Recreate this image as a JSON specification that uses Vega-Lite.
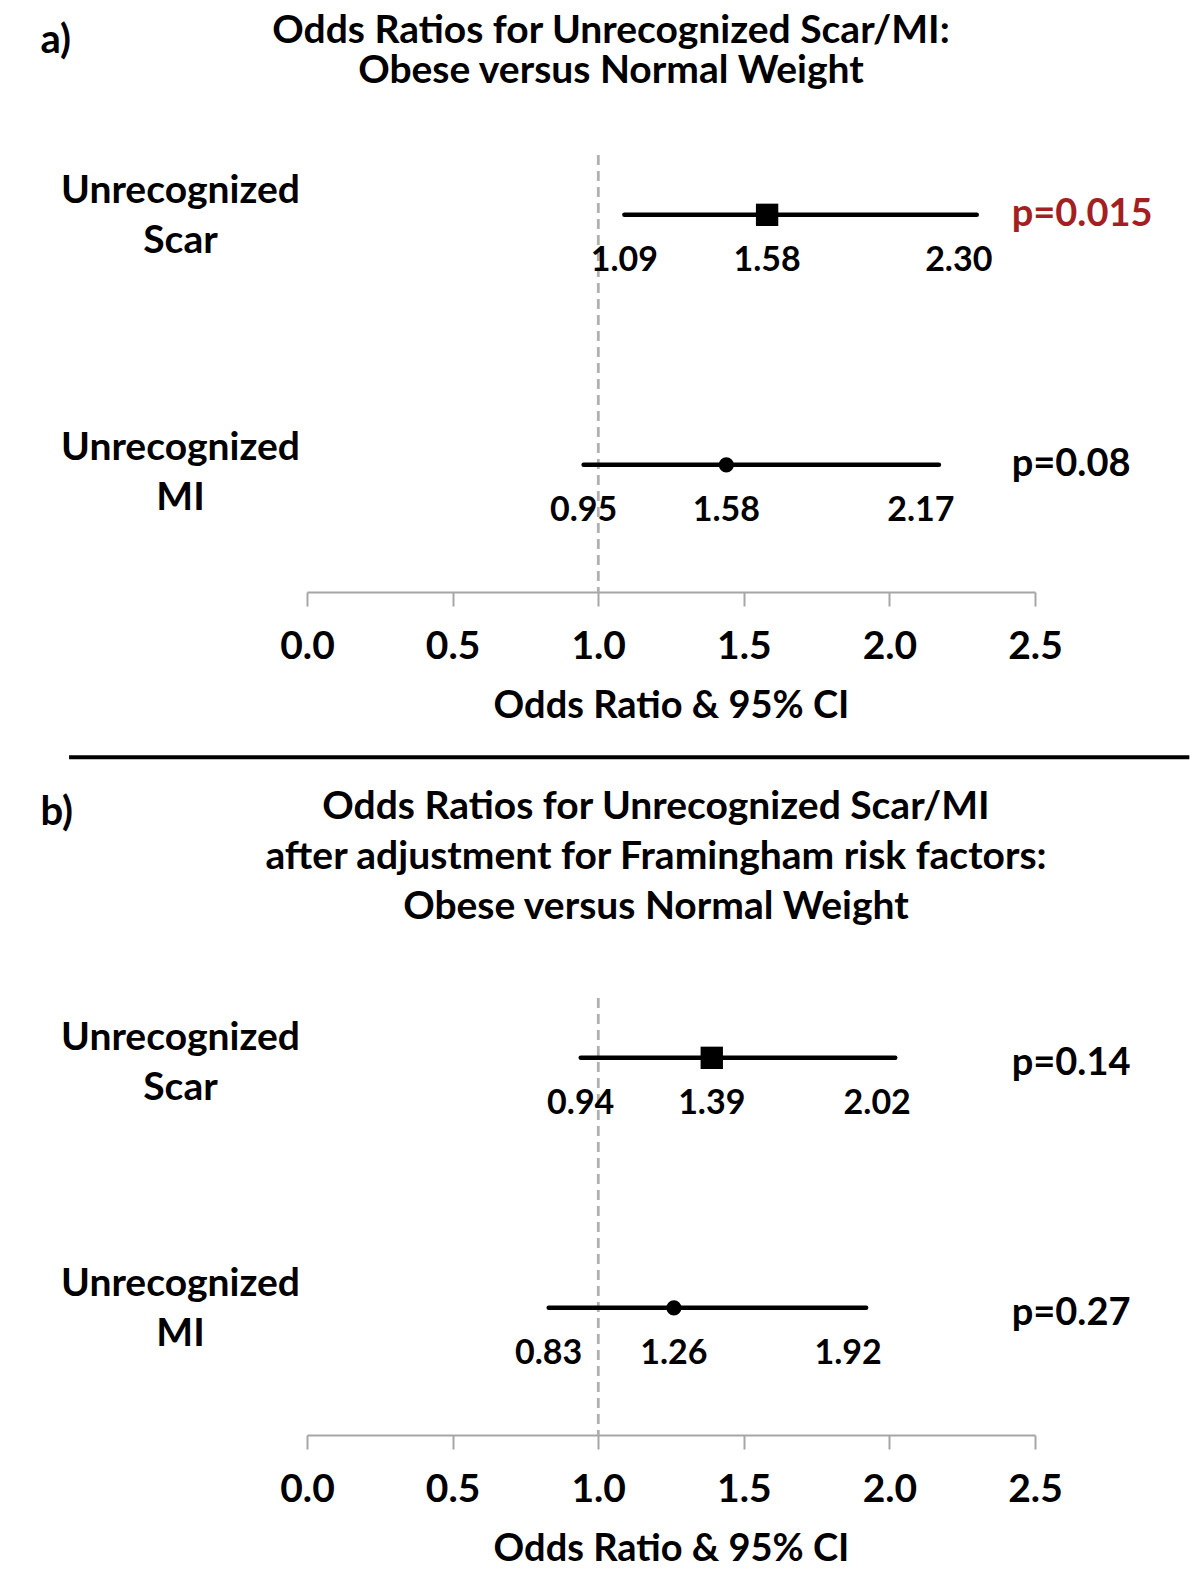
{
  "$schema": "https://vega.github.io/schema/vega-lite/v6.json",
  "padding": {"left": 40, "top": 12, "right": 5, "bottom": 0},
  "background": "white",
  "config": {"font": "Lato", "view": {"stroke": null}, "axis": {"grid": false}},
  "datasets": {
    "forest": [
      {"panel": "a", "outcome": "Unrecognized Scar", "or": 1.58, "lo": 1.09, "hi": 2.30, "orLabel": "1.58", "loLabel": "1.09", "hiLabel": "2.30", "p": "p=0.015", "sig": "yes"},
      {"panel": "a", "outcome": "Unrecognized MI", "or": 1.44, "lo": 0.95, "hi": 2.17, "orLabel": "1.58", "loLabel": "0.95", "hiLabel": "2.17", "p": "p=0.08", "sig": "no"},
      {"panel": "b", "outcome": "Unrecognized Scar", "or": 1.39, "lo": 0.94, "hi": 2.02, "orLabel": "1.39", "loLabel": "0.94", "hiLabel": "2.02", "p": "p=0.14", "sig": "no"},
      {"panel": "b", "outcome": "Unrecognized MI", "or": 1.26, "lo": 0.83, "hi": 1.92, "orLabel": "1.26", "loLabel": "0.83", "hiLabel": "1.92", "p": "p=0.27", "sig": "no"}
    ]
  },
  "spacing": 28,
  "vconcat": [
    {
      "width": 728,
      "height": 437,
      "title": {"text": ["Odds Ratios for Unrecognized Scar/MI:", "Obese versus Normal Weight"], "font": "Lato", "fontSize": 39, "fontWeight": "bold", "lineHeight": 40, "color": "black", "anchor": "middle", "frame": "group", "dx": -60, "dy": 71, "offset": 0},
      "layer": [
        {
          "data": {"name": "forest"},
          "transform": [{"filter": "datum.panel == 'a'"}],
          "layer": [
            {"mark": {"type": "rule", "color": "#b0b0b0", "strokeWidth": 2.5, "strokeDash": [10, 6]}, "encoding": {"x": {"datum": 1, "scale": {"domain": [0, 2.5], "nice": false}}}},
            {
              "mark": {"type": "rule", "color": "black", "strokeWidth": 4.5, "strokeCap": "round"},
              "encoding": {
                "x": {"field": "lo", "type": "quantitative", "scale": {"domain": [0, 2.5], "nice": false},
                  "axis": {"values": [0, 0.5, 1, 1.5, 2, 2.5], "format": ".1f", "title": "Odds Ratio & 95% CI", "titleFontSize": 38, "titleFontWeight": "bold", "titleColor": "black", "titlePadding": 21, "labelFontSize": 39, "labelFontWeight": "bold", "labelColor": "black", "labelPadding": 21, "labelFlush": false, "labelOverlap": false, "domainColor": "#a6a6a6", "domainWidth": 2, "tickColor": "#a6a6a6", "tickWidth": 2, "tickSize": 14}},
                "x2": {"field": "hi"},
                "y": {"field": "outcome", "type": "nominal", "scale": {"type": "point", "domain": ["Unrecognized Scar", "Unrecognized MI"], "padding": 0.374, "align": 0.32},
                  "axis": {"title": "a)", "titleAngle": 0, "titleX": -267, "titleY": -115, "titleAlign": "left", "titleBaseline": "middle", "titleFontSize": 40, "titleFontWeight": "bold", "titleColor": "black", "labelExpr": "split(datum.label, ' ')", "labelAlign": "center", "labelBaseline": "middle", "labelPadding": 127, "labelOffset": {"condition": {"test": "datum.value == 'Unrecognized MI'", "value": -17}, "value": -24}, "labelFontSize": 39, "labelFontWeight": "bold", "labelColor": "black", "labelLineHeight": 50, "labelLimit": 0, "ticks": false, "domain": false}}
              }
            },
            {
              "mark": {"type": "point", "filled": true, "color": "black", "opacity": 1},
              "encoding": {
                "x": {"field": "or", "type": "quantitative", "scale": {"domain": [0, 2.5], "nice": false}},
                "y": {"field": "outcome", "type": "nominal"},
                "shape": {"field": "outcome", "type": "nominal", "scale": {"domain": ["Unrecognized Scar", "Unrecognized MI"], "range": ["square", "circle"]}, "legend": null},
                "size": {"field": "outcome", "type": "ordinal", "scale": {"domain": ["Unrecognized Scar", "Unrecognized MI"], "range": [500, 230]}, "legend": null}
              }
            },
            {
              "mark": {"type": "text", "fontSize": 34, "fontWeight": "bold", "color": "black", "dy": 46, "baseline": "middle"},
              "encoding": {"x": {"field": "lo", "type": "quantitative", "scale": {"domain": [0, 2.5], "nice": false}}, "y": {"field": "outcome", "type": "nominal"}, "text": {"field": "loLabel"}}
            },
            {
              "mark": {"type": "text", "fontSize": 34, "fontWeight": "bold", "color": "black", "dy": 46, "baseline": "middle"},
              "encoding": {"x": {"field": "or", "type": "quantitative", "scale": {"domain": [0, 2.5], "nice": false}}, "y": {"field": "outcome", "type": "nominal"}, "text": {"field": "orLabel"}}
            },
            {
              "mark": {"type": "text", "fontSize": 34, "fontWeight": "bold", "color": "black", "dy": 46, "dx": -18, "baseline": "middle"},
              "encoding": {"x": {"field": "hi", "type": "quantitative", "scale": {"domain": [0, 2.5], "nice": false}}, "y": {"field": "outcome", "type": "nominal"}, "text": {"field": "hiLabel"}}
            },
            {
              "mark": {"type": "text", "fontSize": 38, "fontWeight": "bold", "align": "left", "baseline": "middle", "dy": 0},
              "encoding": {
                "x": {"datum": 2.42, "scale": {"domain": [0, 2.5], "nice": false}},
                "y": {"field": "outcome", "type": "nominal"},
                "text": {"field": "p"},
                "color": {"field": "sig", "type": "nominal", "scale": {"domain": ["yes", "no"], "range": ["#a31f22", "#000000"]}, "legend": null}
              }
            }
          ]
        },
        {
          "data": {"values": [{}]},
          "mark": {"type": "rule", "color": "black", "strokeWidth": 4},
          "encoding": {
            "x": {"datum": -0.817, "scale": {"domain": [0, 2.5], "nice": false}},
            "x2": {"datum": 3.03},
            "y": {"datum": -0.378, "type": "quantitative", "scale": {"domain": [0, 1]}, "axis": null}
          }
        }
      ],
      "resolve": {"scale": {"y": "independent"}}
    },
    {
      "width": 728,
      "height": 437,
      "title": {"text": ["Odds Ratios for Unrecognized Scar/MI", "after adjustment for Framingham risk factors:", "Obese versus Normal Weight"], "font": "Lato", "fontSize": 39, "fontWeight": "bold", "lineHeight": 50, "color": "black", "anchor": "middle", "frame": "group", "dx": -15, "dy": 135, "offset": 0},
      "data": {"name": "forest"},
      "transform": [{"filter": "datum.panel == 'b'"}],
      "layer": [
        {"mark": {"type": "rule", "color": "#b0b0b0", "strokeWidth": 2.5, "strokeDash": [10, 6]}, "encoding": {"x": {"datum": 1, "scale": {"domain": [0, 2.5], "nice": false}}}},
        {
          "mark": {"type": "rule", "color": "black", "strokeWidth": 4.5, "strokeCap": "round"},
          "encoding": {
            "x": {"field": "lo", "type": "quantitative", "scale": {"domain": [0, 2.5], "nice": false},
              "axis": {"values": [0, 0.5, 1, 1.5, 2, 2.5], "format": ".1f", "title": "Odds Ratio & 95% CI", "titleFontSize": 38, "titleFontWeight": "bold", "titleColor": "black", "titlePadding": 21, "labelFontSize": 39, "labelFontWeight": "bold", "labelColor": "black", "labelPadding": 21, "labelFlush": false, "labelOverlap": false, "domainColor": "#a6a6a6", "domainWidth": 2, "tickColor": "#a6a6a6", "tickWidth": 2, "tickSize": 14}},
            "x2": {"field": "hi"},
            "y": {"field": "outcome", "type": "nominal", "scale": {"type": "point", "domain": ["Unrecognized Scar", "Unrecognized MI"], "padding": 0.374, "align": 0.32},
              "axis": {"title": "b)", "titleAngle": 0, "titleX": -267, "titleY": -186, "titleAlign": "left", "titleBaseline": "middle", "titleFontSize": 40, "titleFontWeight": "bold", "titleColor": "black", "labelExpr": "split(datum.label, ' ')", "labelAlign": "center", "labelBaseline": "middle", "labelPadding": 127, "labelOffset": {"condition": {"test": "datum.value == 'Unrecognized MI'", "value": -24}, "value": -20}, "labelFontSize": 39, "labelFontWeight": "bold", "labelColor": "black", "labelLineHeight": 50, "labelLimit": 0, "ticks": false, "domain": false}}
          }
        },
        {
          "mark": {"type": "point", "filled": true, "color": "black", "opacity": 1},
          "encoding": {
            "x": {"field": "or", "type": "quantitative", "scale": {"domain": [0, 2.5], "nice": false}},
            "y": {"field": "outcome", "type": "nominal"},
            "shape": {"field": "outcome", "type": "nominal", "scale": {"domain": ["Unrecognized Scar", "Unrecognized MI"], "range": ["square", "circle"]}, "legend": null},
            "size": {"field": "outcome", "type": "ordinal", "scale": {"domain": ["Unrecognized Scar", "Unrecognized MI"], "range": [500, 230]}, "legend": null}
          }
        },
        {
          "mark": {"type": "text", "fontSize": 34, "fontWeight": "bold", "color": "black", "dy": 46, "baseline": "middle"},
          "encoding": {"x": {"field": "lo", "type": "quantitative", "scale": {"domain": [0, 2.5], "nice": false}}, "y": {"field": "outcome", "type": "nominal"}, "text": {"field": "loLabel"}}
        },
        {
          "mark": {"type": "text", "fontSize": 34, "fontWeight": "bold", "color": "black", "dy": 46, "baseline": "middle"},
          "encoding": {"x": {"field": "or", "type": "quantitative", "scale": {"domain": [0, 2.5], "nice": false}}, "y": {"field": "outcome", "type": "nominal"}, "text": {"field": "orLabel"}}
        },
        {
          "mark": {"type": "text", "fontSize": 34, "fontWeight": "bold", "color": "black", "dy": 46, "dx": -18, "baseline": "middle"},
          "encoding": {"x": {"field": "hi", "type": "quantitative", "scale": {"domain": [0, 2.5], "nice": false}}, "y": {"field": "outcome", "type": "nominal"}, "text": {"field": "hiLabel"}}
        },
        {
          "mark": {"type": "text", "fontSize": 38, "fontWeight": "bold", "align": "left", "baseline": "middle", "dy": 6},
          "encoding": {
            "x": {"datum": 2.42, "scale": {"domain": [0, 2.5], "nice": false}},
            "y": {"field": "outcome", "type": "nominal"},
            "text": {"field": "p"},
            "color": {"field": "sig", "type": "nominal", "scale": {"domain": ["yes", "no"], "range": ["#a31f22", "#000000"]}, "legend": null}
          }
        }
      ]
    }
  ]
}
